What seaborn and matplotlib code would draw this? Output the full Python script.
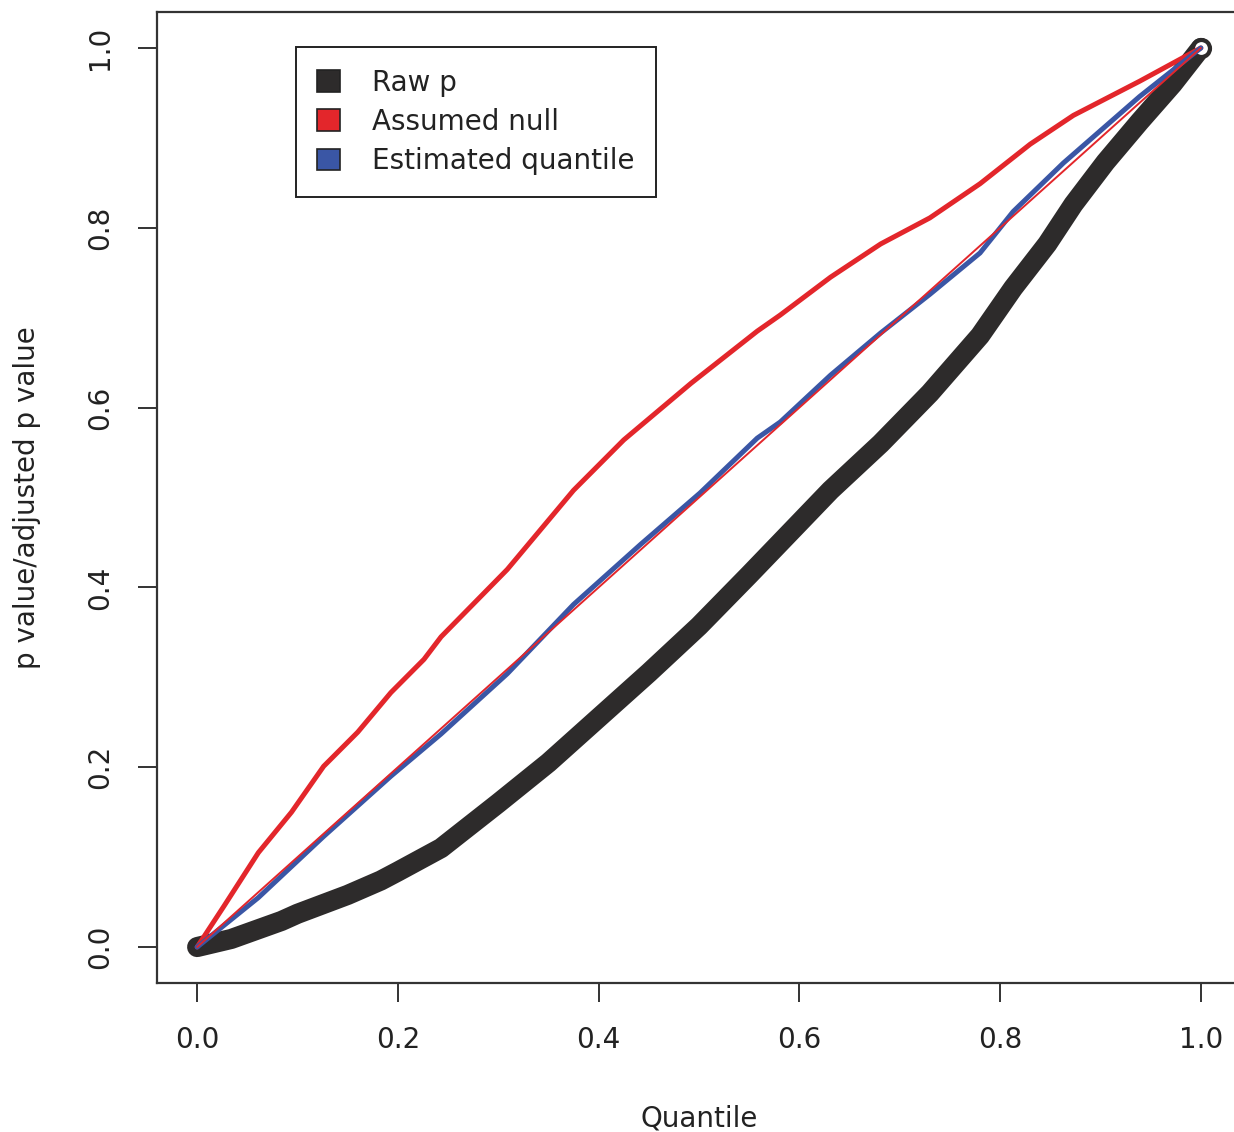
import matplotlib
matplotlib.use("Agg")
import matplotlib.pyplot as plt
import seaborn as sns
import pandas as pd
from matplotlib.patches import Patch

# values
raw_q = [0.0, 0.034, 0.084, 0.1, 0.15, 0.183, 0.2, 0.243, 0.3, 0.35, 0.4, 0.45, 0.5,
         0.55, 0.6, 0.631, 0.681, 0.73, 0.78, 0.813, 0.847, 0.873, 0.905, 0.939, 0.972, 1.0]
raw_p = [0.0, 0.009, 0.029, 0.037, 0.058, 0.074, 0.084, 0.110, 0.160, 0.205, 0.255, 0.305,
         0.357, 0.414, 0.472, 0.508, 0.560, 0.616, 0.680, 0.733, 0.782, 0.826, 0.873,
         0.918, 0.960, 1.0]

null_q = [0.0, 0.027, 0.061, 0.094, 0.126, 0.16, 0.193, 0.226, 0.243, 0.309, 0.375, 0.425,
          0.492, 0.558, 0.581, 0.631, 0.681, 0.73, 0.78, 0.83, 0.873, 0.939, 1.0]
null_p = [0.0, 0.046, 0.105, 0.150, 0.201, 0.239, 0.283, 0.320, 0.345, 0.420, 0.508, 0.564,
          0.627, 0.685, 0.703, 0.745, 0.782, 0.811, 0.849, 0.893, 0.925, 0.963, 1.0]

est_q = [0.0, 0.061, 0.126, 0.193, 0.243, 0.309, 0.375, 0.442, 0.501, 0.558, 0.581, 0.631,
         0.681, 0.73, 0.78, 0.813, 0.863, 0.939, 1.0]
est_p = [0.0, 0.055, 0.123, 0.19, 0.237, 0.304, 0.381, 0.448, 0.505, 0.566, 0.584, 0.636,
         0.683, 0.726, 0.772, 0.818, 0.872, 0.946, 1.0]

diag = [0.0, 1.0]

ticks = [0.0, 0.2, 0.4, 0.6, 0.8, 1.0]
tick_labels = ["0.0", "0.2", "0.4", "0.6", "0.8", "1.0"]
legend_labels = ["Raw p", "Assumed null", "Estimated quantile"]

BLACK = "#2d2b2b"
RED = "#e3262b"
BLUE = "#3a56a5"
FRAME = "#333333"
TEXT = "#222222"

sns.set_style("white")
plt.rcParams["font.family"] = ["DejaVu Sans"]

fig = plt.figure(figsize=(12.34, 11.32), dpi=100)
ax = fig.add_axes([157 / 1234, 1 - 983 / 1132, 1084 / 1234, 971 / 1132])

raw_df = pd.DataFrame({"q": raw_q, "p": raw_p})
null_df = pd.DataFrame({"q": null_q, "p": null_p})
est_df = pd.DataFrame({"q": est_q, "p": est_p})

# thick band (overlapping open circles in the original)
sns.lineplot(data=raw_df, x="q", y="p", ax=ax, color=BLACK, linewidth=14.5,
             estimator=None, solid_capstyle="round", solid_joinstyle="round", zorder=2)
ax.scatter(raw_df["q"].iloc[-1:], raw_df["p"].iloc[-1:], s=150, facecolor="white",
           edgecolor=BLACK, linewidth=3, zorder=3)

sns.lineplot(data=null_df, x="q", y="p", ax=ax, color=RED, linewidth=3.6,
             estimator=None, solid_joinstyle="round", zorder=4)
sns.lineplot(data=est_df, x="q", y="p", ax=ax, color=BLUE, linewidth=3.6,
             estimator=None, solid_joinstyle="round", zorder=4)
sns.lineplot(x=diag, y=diag, ax=ax, color=RED, linewidth=1.4, estimator=None, zorder=5)

ax.set_xlim(-0.04, 1.04)
ax.set_ylim(-0.04, 1.04)
ax.set_xticks(ticks)
ax.set_xticklabels(tick_labels)
ax.set_yticks(ticks)
ax.set_yticklabels(tick_labels, rotation=90, va="center")
ax.tick_params(axis="both", direction="out", length=14, width=1.4, color=FRAME,
               pad=17, labelsize=20, labelcolor=TEXT, left=True, bottom=True)

for sp in ax.spines.values():
    sp.set_visible(True)
    sp.set_linewidth(1.6)
    sp.set_color(FRAME)

ax.set_xlabel("Quantile", fontsize=20, color=TEXT, labelpad=36)
ax.set_ylabel("p value/adjusted p value", fontsize=20, color=TEXT, labelpad=32)

handles = [Patch(facecolor=c, edgecolor=TEXT, linewidth=1.2) for c in [BLACK, RED, BLUE]]
leg = ax.legend(handles, legend_labels, loc="upper left", bbox_to_anchor=(0.128, 0.964),
                borderaxespad=0, fontsize=20, frameon=True, fancybox=False,
                handlelength=0.8, handleheight=0.8, handletextpad=1.15,
                labelspacing=0.4, borderpad=0.78)
leg.get_frame().set_edgecolor(TEXT)
leg.get_frame().set_linewidth(1.4)
leg.get_frame().set_alpha(1)
for t in leg.get_texts():
    t.set_color(TEXT)

fig.savefig("out.png", dpi=100)
